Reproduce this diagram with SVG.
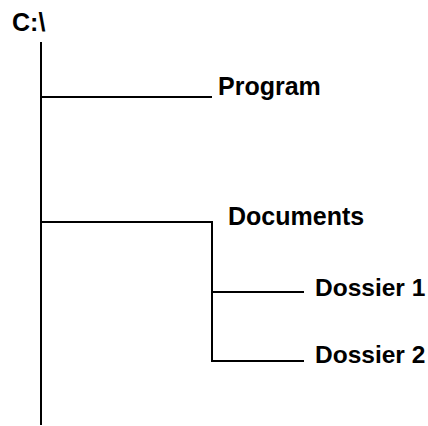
<svg xmlns="http://www.w3.org/2000/svg" width="428" height="426" viewBox="0 0 428 426">
<style>
.t{font-family:"Liberation Sans",Arial,sans-serif;font-weight:bold;font-size:25px;fill:#000}
.d{font-size:24.5px}
.c{stroke:#000;stroke-width:2;fill:none}
</style>
<rect width="428" height="426" fill="#fff"/>
<g id="connectors">
<line class="c" x1="41" y1="42" x2="41" y2="425"/>
<line class="c" x1="41" y1="97" x2="212" y2="97"/>
<polyline class="c" points="41,222 212,222 212,361 304,361"/>
<line class="c" x1="212" y1="292" x2="304" y2="292"/>
</g>
<g id="root"><text class="t" x="12" y="31">C:\</text></g>
<g id="program"><text class="t" x="218" y="95">Program</text></g>
<g id="documents"><text class="t" x="228" y="225">Documents</text></g>
<g id="dossier1"><text class="t d" x="315" y="296">Dossier 1</text></g>
<g id="dossier2"><text class="t d" x="315" y="363">Dossier 2</text></g>
</svg>
